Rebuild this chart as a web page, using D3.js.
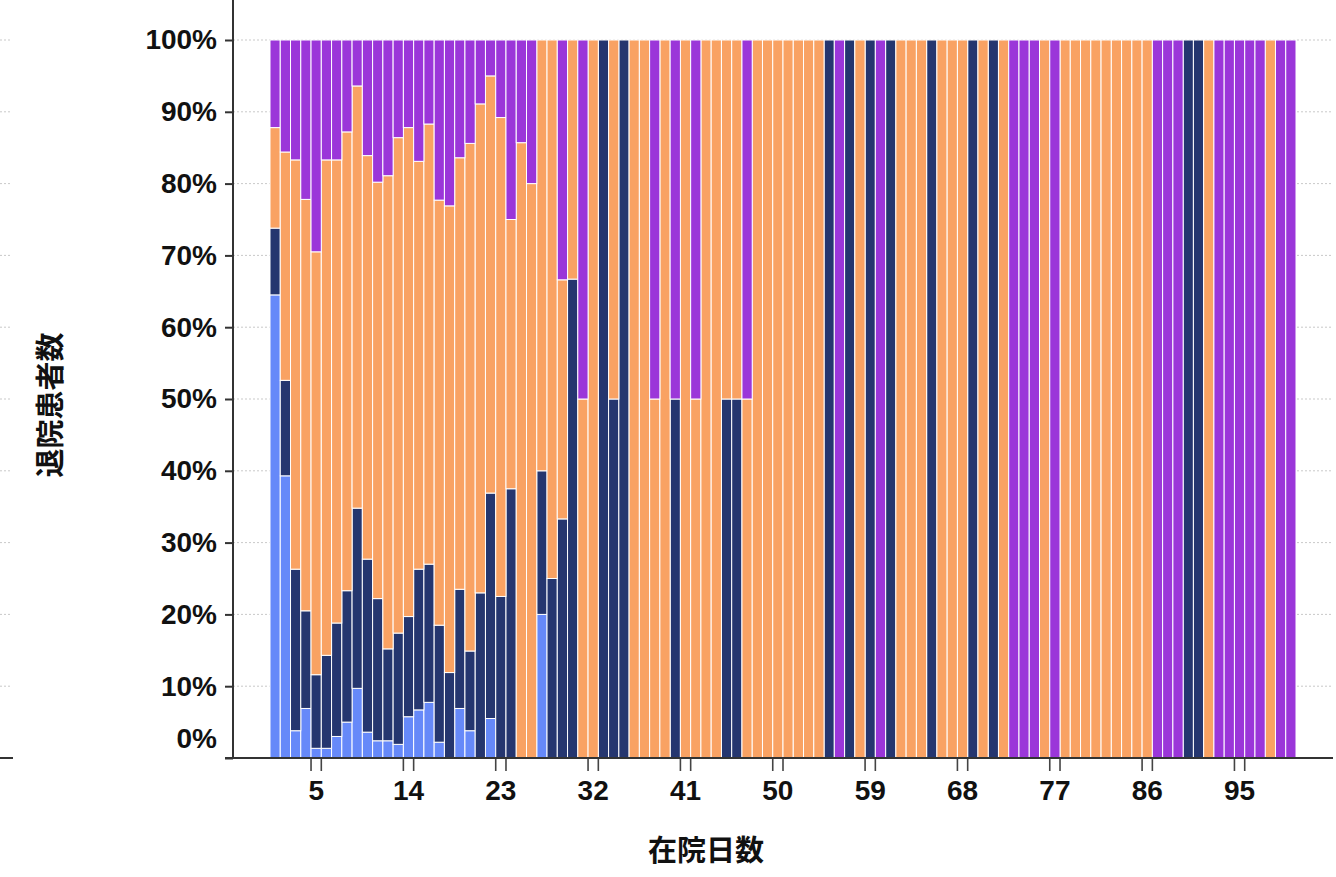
<!DOCTYPE html>
<html><head><meta charset="utf-8">
<script src="https://cdn.jsdelivr.net/npm/d3@7"></script>
<style>body{margin:0;background:#fff;} svg{display:block}</style>
</head><body><svg id="c" width="1336" height="877"></svg>
<script>
// ---- data ----
const days = d3.range(1, 101); // 在院日数 1..100
const seriesKeys = ["s1", "s2", "s3", "s4"]; // bottom -> top
const seriesColors = ["#6689f9", "#25366f", "#f9a263", "#9b36d9"];
const yTickValues = [0, 10, 20, 30, 40, 50, 60, 70, 80, 90, 100];
const xTickDays = [5, 14, 23, 32, 41, 50, 59, 68, 77, 86, 95];
const xTitle = "在院日数";
const yTitle = "退院患者数";

// percentages per day (day 1..100)
const s1 = [
  64.5,39.3,3.8,6.9,1.35,1.35,3.0,5.0,9.7,3.6,
  2.4,2.4,1.9,5.75,6.7,7.75,2.2,0,6.9,3.8,
  0,5.5,0,0,0,0,20,0,0,0,
  0,0,0,0,0,0,0,0,0,0,
  0,0,0,0,0,0,0,0,0,0,
  0,0,0,0,0,0,0,0,0,0,
  0,0,0,0,0,0,0,0,0,0,
  0,0,0,0,0,0,0,0,0,0,
  0,0,0,0,0,0,0,0,0,0,
  0,0,0,0,0,0,0,0,0,0
];
const s2 = [
  9.3,13.3,22.5,13.6,10.25,12.95,15.8,18.3,25.1,24.1,
  19.8,12.8,15.5,13.95,19.6,19.25,16.3,11.9,16.6,11.1,
  23.0,31.4,22.5,37.5,0,0,20,25,33.3,66.7,
  0,0,100,50,100,0,0,0,0,50,
  0,0,0,0,50,50,0,0,0,0,
  0,0,0,0,100,0,100,0,100,0,
  100,0,0,0,100,0,0,0,100,0,
  100,0,0,0,0,0,0,0,0,0,
  0,0,0,0,0,0,0,0,0,100,
  100,0,0,0,0,0,0,0,0,0
];
const s3 = [
  14.0,31.8,57.0,57.3,58.9,69.0,64.5,63.9,58.8,56.2,
  58.0,65.9,69.0,68.1,56.8,61.3,59.2,65.0,60.1,70.7,
  68.1,58.1,66.7,37.5,85.7,80,60,75,33.3,33.3,
  50,100,0,50,0,100,100,50,100,0,
  100,50,100,100,50,50,50,100,100,100,
  100,100,100,100,0,0,0,100,0,0,
  0,100,100,100,0,100,100,100,0,100,
  0,100,0,0,0,100,0,100,100,100,
  100,100,100,100,100,100,0,0,0,0,
  0,100,0,0,0,0,0,100,0,0
];
const s4 = [
  12.2,15.6,16.7,22.2,29.5,16.7,16.7,12.8,6.4,16.1,
  19.8,18.9,13.6,12.2,16.9,11.7,22.3,23.1,16.4,14.4,
  8.9,5.0,10.8,25,14.3,20,0,0,33.4,0,
  50,0,0,0,0,0,0,50,0,50,
  0,50,0,0,0,0,50,0,0,0,
  0,0,0,0,0,100,0,0,0,100,
  0,0,0,0,0,0,0,0,0,0,
  0,0,100,100,100,0,100,0,0,0,
  0,0,0,0,0,0,100,100,100,0,
  0,0,100,100,100,100,100,0,100,100
];

// ---- build table ----
const table = days.map((d, i) => ({day: d, s1: s1[i], s2: s2[i], s3: s3[i], s4: s4[i]}));
const stacked = d3.stack().keys(seriesKeys)(table);

const svg = d3.select("#c");
const x = d3.scaleBand().domain(days).range([270, 1296]).padding(0);
const y = d3.scaleLinear().domain([0, 100]).range([758, 40]);

const FONT = "'Liberation Sans', Arial, sans-serif";
const CJK = "'Noto Sans CJK JP', 'Noto Sans CJK SC', sans-serif";

// gridlines (main)
const grid = svg.append("g");
grid.selectAll("line.g").data(yTickValues.filter(v => v > 0)).join("line")
  .attr("x1", 233).attr("x2", 1331)
  .attr("y1", d => y(d)).attr("y2", d => y(d))
  .attr("stroke", "#c9c9c9").attr("stroke-width", 1).attr("stroke-dasharray", "2,2");
// left stub of neighbouring chart
grid.selectAll("line.s").data(yTickValues.filter(v => v > 0)).join("line")
  .attr("x1", 0).attr("x2", 12)
  .attr("y1", d => y(d)).attr("y2", d => y(d))
  .attr("stroke", "#c9c9c9").attr("stroke-width", 1).attr("stroke-dasharray", "2,2");
svg.append("line").attr("x1", 0).attr("x2", 13).attr("y1", y(0)).attr("y2", y(0))
  .attr("stroke", "#333").attr("stroke-width", 2);

// bars
const barsG = svg.append("g");
barsG.selectAll("g").data(stacked).join("g")
  .attr("fill", (d, i) => seriesColors[i])
  .selectAll("rect")
  .data(d => d.filter(s => s[1] - s[0] > 0))
  .join("rect")
  .attr("x", d => x(d.data.day))
  .attr("width", x.bandwidth())
  .attr("y", d => y(d[1]))
  .attr("height", d => y(d[0]) - y(d[1]))
  .attr("stroke", "#fff").attr("stroke-width", 1);

// y axis
const yAxis = d3.axisLeft(y).tickValues(yTickValues).tickSize(8).tickSizeOuter(0)
  .tickPadding(8).tickFormat(d => d + "%");
const yg = svg.append("g").attr("transform", "translate(233,0)").call(yAxis);
yg.select(".domain").remove();
yg.selectAll(".tick line").attr("stroke", "#333").attr("stroke-width", 2);
yg.selectAll(".tick text")
  .attr("font-family", FONT).attr("font-size", 28).attr("font-weight", "bold")
  .attr("fill", "#111")
  .attr("y", d => d === 0 ? -19 : 0);
svg.append("line").attr("x1", 233).attr("x2", 233).attr("y1", 0).attr("y2", y(0))
  .attr("stroke", "#333").attr("stroke-width", 2);

// x axis
const xAxis = d3.axisBottom(x).tickValues(xTickDays).tickSize(0).tickPadding(22);
const xg = svg.append("g").attr("transform", `translate(0,${y(0)})`).call(xAxis);
xg.select(".domain").remove();
xg.selectAll(".tick text")
  .attr("font-family", FONT).attr("font-size", 28).attr("font-weight", "bold")
  .attr("fill", "#111");
const edgeTicks = [];
xTickDays.forEach(d => { edgeTicks.push(x(d)); edgeTicks.push(x(d) + x.bandwidth()); });
xg.selectAll("line.edge").data(edgeTicks).join("line")
  .attr("class", "edge")
  .attr("x1", d => d).attr("x2", d => d).attr("y1", 0).attr("y2", 13)
  .attr("stroke", "#444").attr("stroke-width", 1.6);
svg.append("line").attr("x1", 225).attr("x2", 1333).attr("y1", y(0)).attr("y2", y(0))
  .attr("stroke", "#333").attr("stroke-width", 2);

// titles
svg.append("text").text(xTitle)
  .attr("x", 706).attr("y", 848).attr("text-anchor", "middle").attr("dominant-baseline", "central")
  .attr("font-family", CJK).attr("font-size", 29).attr("font-weight", "bold").attr("fill", "#111");
svg.append("text").text(yTitle)
  .attr("transform", "translate(48,405) rotate(-90)")
  .attr("text-anchor", "middle").attr("dominant-baseline", "central")
  .attr("font-family", CJK).attr("font-size", 29).attr("font-weight", "bold").attr("fill", "#111");
</script>
</body></html>
